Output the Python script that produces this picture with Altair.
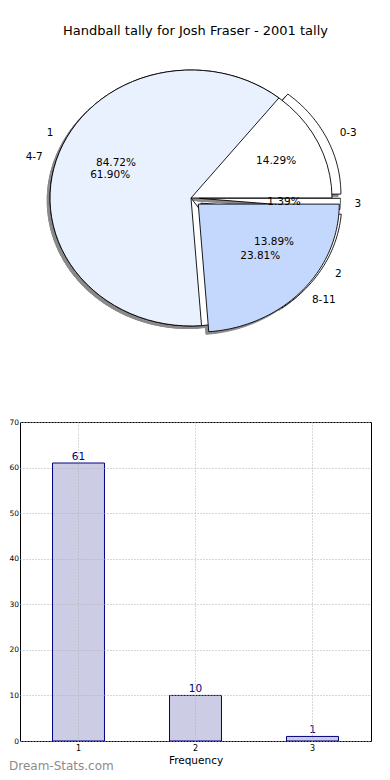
import altair as alt
import pandas as pd

# ---------------- data ----------------
title_text = ["Handball tally for Josh Fraser - 2001 tally"]

freq_labels = ["1", "2", "3"]
freq_counts = [61, 10, 1]
freq_explode = [0.0, 0.08, 0.06]
freq_fills = ["#ffffff", "#ffffff", "#ffffff"]

tally_labels = ["0-3", "4-7", "8-11"]
tally_counts = [3, 13, 5]
tally_explode = [0.07, 0.0, 0.07]
tally_fills = ["#ffffff", "#eaf1fe", "#c4d8fe"]
tally_stack = [0, 2, 2]   # 0 = behind frequency pie, 2 = in front

bar_categories = ["1", "2", "3"]
bar_values = [61, 10, 1]
y_ticks = [0, 10, 20, 30, 40, 50, 60, 70]
x_title = "Frequency"
watermark = ["Dream-Stats.com"]

FONT = "DejaVu Sans"

rows = []
for i, (l, c, e, f) in enumerate(zip(freq_labels, freq_counts, freq_explode, freq_fills)):
    rows.append(dict(pie="A", idx=i, key="A" + l, label=l, count=c, explode=e, fill=f, stack=1))
for i, (l, c, e, f, s) in enumerate(zip(tally_labels, tally_counts, tally_explode, tally_fills, tally_stack)):
    rows.append(dict(pie="B", idx=i, key="B" + l, label=l, count=c, explode=e, fill=f, stack=s))
wedges = pd.DataFrame(rows)

# ---------------- pie panel ----------------
PW, PH = 351, 395
xs = alt.Scale(domain=[-1.2128, 1.2766], nice=False, zero=False)
ys = alt.Scale(domain=[-1.6094, 1.4766], nice=False, zero=False)

base = (
    alt.Chart(wedges)
    .transform_joinaggregate(total="sum(count)", groupby=["pie"])
    .transform_window(cum="sum(count)", groupby=["pie"], sort=[alt.SortField("idx")], frame=[None, 0])
    .transform_calculate(a0="2*PI*(datum.cum-datum.count)/datum.total")
    .transform_calculate(a1="2*PI*datum.cum/datum.total")
    .transform_calculate(mid="(datum.a0+datum.a1)/2")
    .transform_calculate(ex="datum.explode*cos(datum.mid)")
    .transform_calculate(ey="datum.explode*sin(datum.mid)")
)

poly = (
    base.transform_calculate(k="sequence(0, 63)")
    .transform_flatten(["k"])
    .transform_calculate(t="datum.a0 + (datum.a1 - datum.a0) * (datum.k - 1) / 60")
    .transform_calculate(onarc="(datum.k >= 1 && datum.k <= 61) ? 1 : 0")
    .transform_calculate(px="datum.ex + datum.onarc*cos(datum.t)")
    .transform_calculate(py="datum.ey + datum.onarc*sin(datum.t)")
)


def wedge_layer(expr):
    return (
        poly.transform_filter(expr)
        .mark_line(stroke="black", strokeWidth=0.9, strokeJoin="round")
        .encode(
            x=alt.X("px:Q", scale=xs, axis=None),
            y=alt.Y("py:Q", scale=ys, axis=None),
            order="k:Q",
            detail="key:N",
            fill=alt.Fill("fill:N", scale=None, legend=None),
        )
    )


shadow = (
    poly.transform_calculate(sx="datum.px - 0.02")
    .transform_calculate(sy="datum.py - 0.02")
    .mark_line(stroke="#8a8a8a", strokeWidth=1, fill="#8a8a8a")
    .encode(
        x=alt.X("sx:Q", scale=xs, axis=None),
        y=alt.Y("sy:Q", scale=ys, axis=None),
        order="k:Q",
        detail="key:N",
    )
)

back = wedge_layer("datum.stack == 0")
mid_l = wedge_layer("datum.stack == 1")
front = wedge_layer("datum.stack == 2")

labs = (
    base.transform_calculate(lx="(1.1 + datum.explode)*cos(datum.mid)")
    .transform_calculate(ly="(1.1 + datum.explode)*sin(datum.mid)")
    .transform_calculate(qx="(0.6 + datum.explode)*cos(datum.mid)")
    .transform_calculate(qy="(0.6 + datum.explode)*sin(datum.mid)")
    .transform_calculate(pct="format(100*datum.count/datum.total, '.2f') + '%'")
)
txt = dict(font=FONT, fontSize=10.5, color="black", baseline="middle")
names_r = labs.transform_filter("cos(datum.mid) >= 0").mark_text(align="left", **txt).encode(
    x=alt.X("lx:Q", scale=xs, axis=None), y=alt.Y("ly:Q", scale=ys, axis=None), text="label:N")
names_l = labs.transform_filter("cos(datum.mid) < 0").mark_text(align="right", **txt).encode(
    x=alt.X("lx:Q", scale=xs, axis=None), y=alt.Y("ly:Q", scale=ys, axis=None), text="label:N")
pcts = labs.mark_text(align="center", **txt).encode(
    x=alt.X("qx:Q", scale=xs, axis=None), y=alt.Y("qy:Q", scale=ys, axis=None), text="pct:N")

title = alt.Chart(pd.DataFrame({"t": title_text})).mark_text(
    font=FONT, fontSize=13, color="black", align="center", baseline="middle"
).encode(text="t:N", x=alt.value(175.5), y=alt.value(22))

pie = alt.layer(shadow, back, mid_l, front, pcts, names_r, names_l, title).properties(
    width=PW, height=PH, view=alt.ViewBackground(stroke="transparent")
)

# ---------------- bar panel ----------------
bars_df = pd.DataFrame({"cat": bar_categories, "val": bar_values})
BW, BH = 351, 319
bx = alt.X(
    "cat:O",
    title=x_title,
    scale=alt.Scale(paddingInner=0.556, paddingOuter=0.278),
    axis=alt.Axis(
        labelAngle=0, labelFont=FONT, labelFontSize=8, labelPadding=3, ticks=False,
        domain=False, grid=True, gridDash=[1, 2], gridColor="#b0b0b0", bandPosition=0.5,
        titleFont=FONT, titleFontSize=10.5, titleFontWeight="normal", titlePadding=3,
        zindex=1,
    ),
)
by = alt.Y(
    "val:Q",
    title=None,
    scale=alt.Scale(domain=[0, 70], nice=False),
    axis=alt.Axis(
        values=y_ticks, labelFont=FONT, labelFontSize=7.5, labelPadding=1.5, ticks=False,
        domain=False, grid=True, gridDash=[1, 2], gridColor="#b0b0b0",
        minExtent=11, maxExtent=11, zindex=1,
    ),
)
bars = alt.Chart(bars_df).mark_bar(fill="#ccccE5", stroke="#000080", strokeWidth=1).encode(x=bx, y=by)
bar_text = alt.Chart(bars_df).mark_text(
    dy=-6, color="#000080", font=FONT, fontSize=10.5, baseline="middle"
).encode(x=alt.X("cat:O"), y=alt.Y("val:Q"), text="val:Q")
wm = alt.Chart(pd.DataFrame({"w": watermark})).mark_text(
    font=FONT, fontSize=12, color="#8c8c8c", align="left", baseline="middle"
).encode(text="w:N", x=alt.value(-11), y=alt.value(344))

barchart = alt.layer(bars, bar_text, wm).properties(
    width=BW, height=BH, view=alt.ViewBackground(stroke="black", strokeWidth=1)
)

chart = alt.vconcat(pie, barchart, spacing=18, bounds="flush").properties(
    padding={"left": 0, "top": 0, "right": 0, "bottom": 0}
).configure_view(stroke="black")

chart.save("out.html", embed_options={"renderer": "svg", "actions": False})
